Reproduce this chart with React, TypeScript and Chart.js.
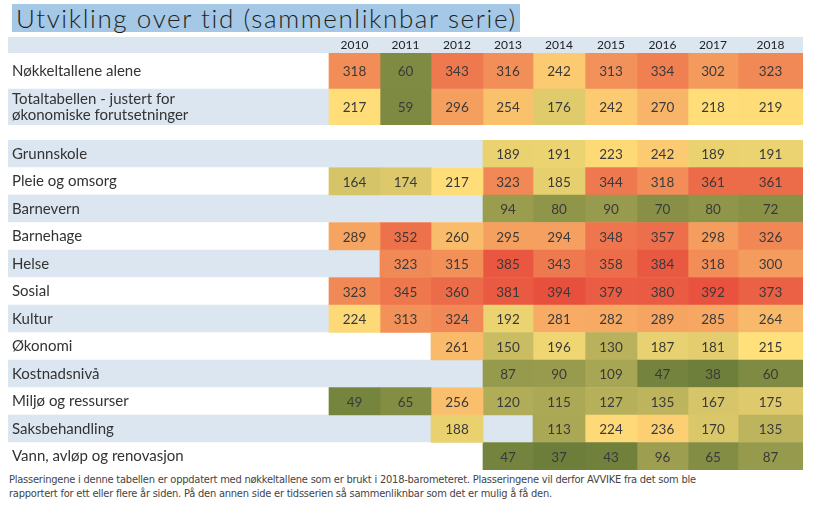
import React, { useEffect, useRef } from 'react';
import { Chart, registerables } from 'chart.js';

Chart.register(...registerables);

// ---------- data ----------
const years = ['2010', '2011', '2012', '2013', '2014', '2015', '2016', '2017', '2018'];

const topLabels: (string | string[])[] = [
  'Nøkkeltallene alene',
  ['Totaltabellen - justert for', 'økonomiske forutsetninger'],
];
const nokkeltallAlene = [318, 60, 343, 316, 242, 313, 334, 302, 323];
const totaltabellen = [217, 59, 296, 254, 176, 242, 270, 218, 219];

const bottomLabels = [
  'Grunnskole',
  'Pleie og omsorg',
  'Barnevern',
  'Barnehage',
  'Helse',
  'Sosial',
  'Kultur',
  'Økonomi',
  'Kostnadsnivå',
  'Miljø og ressurser',
  'Saksbehandling',
  'Vann, avløp og renovasjon',
];
const grunnskole = [null, null, null, 189, 191, 223, 242, 189, 191];
const pleieOgOmsorg = [164, 174, 217, 323, 185, 344, 318, 361, 361];
const barnevern = [null, null, null, 94, 80, 90, 70, 80, 72];
const barnehage = [289, 352, 260, 295, 294, 348, 357, 298, 326];
const helse = [null, 323, 315, 385, 343, 358, 384, 318, 300];
const sosial = [323, 345, 360, 381, 394, 379, 380, 392, 373];
const kultur = [224, 313, 324, 192, 281, 282, 289, 285, 264];
const okonomi = [null, null, 261, 150, 196, 130, 187, 181, 215];
const kostnadsniva = [null, null, null, 87, 90, 109, 47, 38, 60];
const miljo = [49, 65, 256, 120, 115, 127, 135, 167, 175];
const saksbehandling = [null, null, 188, null, 113, 224, 236, 170, 135];
const vann = [null, null, null, 47, 37, 43, 96, 65, 87];

const topValues = [nokkeltallAlene, totaltabellen];
const bottomValues = [
  grunnskole, pleieOgOmsorg, barnevern, barnehage, helse, sosial,
  kultur, okonomi, kostnadsniva, miljo, saksbehandling, vann,
];

const footerLine1 =
  'Plasseringene i denne tabellen er oppdatert med nøkkeltallene som er brukt i 2018-barometeret. Plasseringene vil derfor AVVIKE fra det som ble';
const footerLine2 =
  'rapportert for ett eller flere år siden. På den annen side er tidsserien så sammenliknbar som det er mulig å få den.';

// ---------- layout / style ----------
const X_MAX = 795; // table width in px units (x 8 .. 803)
const COL_EDGES = [321, 372, 423, 475, 525, 577, 629, 680, 730, 795];
const BLUE = '#DCE6F1';
const WHITE = '#FFFFFF';
const FONT = 'Lato, "Noto Sans", sans-serif';

const LOW_C = [108, 126, 58];
const MID_C = [255, 224, 122];
const HIGH_C = [232, 80, 62];
const allVals = [...topValues, ...bottomValues].flat().filter((v) => v != null) as number[];
const MIN_V = Math.min(...allVals);
const MAX_V = Math.max(...allVals);
const MID_V = 215;

function mix(a: number[], b: number[], t: number) {
  const c = a.map((v, i) => Math.round(v + (b[i] - v) * t));
  return `rgb(${c[0]},${c[1]},${c[2]})`;
}
function colorFor(v: number) {
  if (v <= MID_V) return mix(LOW_C, MID_C, (v - MIN_V) / (MID_V - MIN_V));
  return mix(MID_C, HIGH_C, (v - MID_V) / (MAX_V - MID_V));
}

function zeroPadding(s: any) {
  s.paddingTop = 0;
  s.paddingBottom = 0;
  s.paddingLeft = 0;
  s.paddingRight = 0;
}

const cellLabelPlugin = {
  id: 'cellLabels',
  afterDatasetsDraw(chart: any) {
    const ctx = chart.ctx;
    ctx.save();
    ctx.font = `13.5px ${FONT}`;
    ctx.fillStyle = '#3a3a3a';
    ctx.textAlign = 'center';
    ctx.textBaseline = 'middle';
    chart.data.datasets.forEach((ds: any, di: number) => {
      if (!ds.cellValues) return;
      const meta = chart.getDatasetMeta(di);
      meta.data.forEach((el: any, j: number) => {
        const v = ds.cellValues[j];
        if (v == null) return;
        const p = el.getProps(['x', 'base', 'y'], true);
        ctx.fillText(String(v), (p.x + p.base) / 2, p.y + 1);
      });
    });
    ctx.restore();
  },
};

const headerBandPlugin = {
  id: 'headerBand',
  beforeDraw(chart: any) {
    const s = chart.scales.x;
    if (!s || !s.options.display) return;
    const ctx = chart.ctx;
    ctx.save();
    ctx.fillStyle = BLUE;
    ctx.fillRect(s.left, s.top, s.width, s.height);
    ctx.restore();
  },
};

function buildChart(
  canvas: HTMLCanvasElement,
  labels: (string | string[])[],
  values: (number | null)[][],
  stripes: string[],
  showYears: boolean
) {
  const centers = years.map((_, i) => (COL_EDGES[i] + COL_EDGES[i + 1]) / 2);
  const datasets: any[] = [
    {
      label: 'bg',
      data: labels.map(() => [0, X_MAX]),
      backgroundColor: stripes,
      grouped: false,
      barPercentage: 1,
      categoryPercentage: 1,
      borderWidth: 0,
      order: 10,
    },
  ];
  years.forEach((y, i) => {
    const col = values.map((row) => row[i]);
    datasets.push({
      label: y,
      data: col.map((v) => (v == null ? null : [COL_EDGES[i], COL_EDGES[i + 1]])),
      cellValues: col,
      backgroundColor: col.map((v) => (v == null ? 'rgba(0,0,0,0)' : colorFor(v))),
      grouped: false,
      barPercentage: 1,
      categoryPercentage: 1,
      borderWidth: 0,
      order: 1,
    });
  });

  return new Chart(canvas, {
    type: 'bar',
    data: { labels, datasets },
    options: {
      indexAxis: 'y',
      animation: false,
      responsive: false,
      maintainAspectRatio: false,
      layout: { padding: 0, autoPadding: false },
      plugins: { legend: { display: false }, tooltip: { enabled: false }, title: { display: false } },
      scales: {
        x: {
          type: 'linear',
          position: 'top',
          display: showYears,
          min: 0,
          max: X_MAX,
          grid: { display: false, drawTicks: false },
          border: { display: false },
          afterFit: (s: any) => {
            zeroPadding(s);
            if (showYears) s.height = 16;
          },
          afterBuildTicks: (s: any) => {
            s.ticks = centers.map((v) => ({ value: v }));
          },
          ticks: {
            autoSkip: false,
            maxRotation: 0,
            padding: 1,
            color: '#222',
            font: { family: FONT, size: 12 },
            callback: (_v: any, idx: number) => years[idx],
          },
        },
        y: {
          type: 'category',
          position: 'left',
          grid: { display: false, drawTicks: false },
          border: { display: false },
          afterFit: (s: any) => {
            zeroPadding(s);
            s.width = 0;
          },
          ticks: {
            mirror: true,
            padding: 4,
            z: 1,
            color: '#333',
            font: { family: FONT, size: 15, lineHeight: 1.05 },
          },
        },
      },
    } as any,
    plugins: [headerBandPlugin, cellLabelPlugin],
  });
}

function Table({ labels, values, stripes, showYears, width, height }: any) {
  const ref = useRef<HTMLCanvasElement>(null);
  useEffect(() => {
    const c = buildChart(ref.current!, labels, values, stripes, showYears);
    return () => c.destroy();
  }, []);
  return <canvas ref={ref} width={width} height={height} style={{ width, height, display: 'block' }} />;
}

export default function App() {
  const topStripes = [WHITE, BLUE];
  const bottomStripes = bottomLabels.map((_, i) => (i % 2 === 0 ? BLUE : WHITE));
  return (
    <div style={{ position: 'absolute', left: 0, top: 0, width: 818, height: 513, background: '#fff', overflow: 'hidden' }}>
      <div
        style={{
          position: 'absolute',
          left: 12,
          top: 4,
          width: 508,
          height: 28,
          background: '#A5C8E6',
          fontFamily: FONT,
          fontWeight: 300,
          fontSize: 26,
          letterSpacing: '1.6px',
          lineHeight: '28px',
          color: '#1f1f1f',
          paddingLeft: 4,
          boxSizing: 'border-box',
          whiteSpace: 'nowrap',
        }}
      >
        Utvikling over tid (sammenliknbar serie)
      </div>
      <div style={{ position: 'absolute', left: 8, top: 37 }}>
        <Table labels={topLabels} values={topValues} stripes={topStripes} showYears={true} width={795} height={88} />
      </div>
      <div style={{ position: 'absolute', left: 8, top: 140 }}>
        <Table labels={bottomLabels} values={bottomValues} stripes={bottomStripes} showYears={false} width={795} height={330} />
      </div>
      <div
        style={{
          position: 'absolute',
          left: 9,
          top: 473,
          fontFamily: '"Liberation Sans Narrow", "DejaVu Sans Condensed", "Liberation Sans", sans-serif',
          fontStretch: 'condensed',
          fontSize: 11,
          letterSpacing: '-0.22px',
          lineHeight: '14px',
          color: '#444',
          whiteSpace: 'nowrap',
        }}
      >
        {footerLine1}
        <br />
        {footerLine2}
      </div>
    </div>
  );
}
